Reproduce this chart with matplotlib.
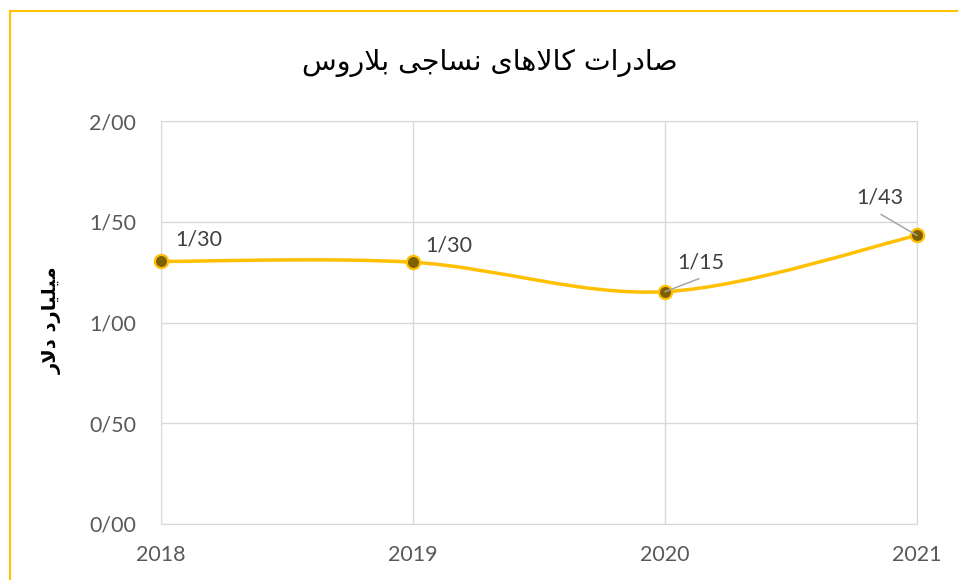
import matplotlib
matplotlib.use('Agg')
import matplotlib.pyplot as plt
from matplotlib.path import Path
from matplotlib.patches import PathPatch, Rectangle
from matplotlib.ticker import FuncFormatter, MultipleLocator

# داده‌ها
years = [2018, 2019, 2020, 2021]
values = [1.303, 1.299, 1.153, 1.432]
title_text = 'صادرات کالاهای نساجی بلاروس'
ylabel_text = 'میلیارد دلار'

# شکل‌دهی دستی حروف فارسی (matplotlib اتصال حروف را انجام نمی‌دهد)
FORMS = {
    'ا': ('\uFE8D', '\uFE8E', None, None),
    'ب': ('\uFE8F', '\uFE90', '\uFE91', '\uFE92'),
    'ت': ('\uFE95', '\uFE96', '\uFE97', '\uFE98'),
    'ج': ('\uFE9D', '\uFE9E', '\uFE9F', '\uFEA0'),
    'د': ('\uFEA9', '\uFEAA', None, None),
    'ر': ('\uFEAD', '\uFEAE', None, None),
    'س': ('\uFEB1', '\uFEB2', '\uFEB3', '\uFEB4'),
    'ص': ('\uFEB9', '\uFEBA', '\uFEBB', '\uFEBC'),
    'ل': ('\uFEDD', '\uFEDE', '\uFEDF', '\uFEE0'),
    'م': ('\uFEE1', '\uFEE2', '\uFEE3', '\uFEE4'),
    'ن': ('\uFEE5', '\uFEE6', '\uFEE7', '\uFEE8'),
    'ه': ('\uFEE9', '\uFEEA', '\uFEEB', '\uFEEC'),
    'و': ('\uFEED', '\uFEEE', None, None),
    'ک': ('\uFB8E', '\uFB8F', '\uFB90', '\uFB91'),
    'ی': ('\uFBFC', '\uFBFD', '\uFBFE', '\uFBFF'),
}


def shape_fa(text):
    out = []
    i, n = 0, len(text)
    while i < n:
        c = text[i]
        if c not in FORMS:
            out.append(c)
            i += 1
            continue
        prev = text[i - 1] if i > 0 else ''
        joins_prev = prev in FORMS and FORMS[prev][2] is not None
        if c == 'ل' and i + 1 < n and text[i + 1] == 'ا':
            out.append('\uFEFC' if joins_prev else '\uFEFB')
            i += 2
            continue
        nxt = text[i + 1] if i + 1 < n else ''
        joins_next = FORMS[c][2] is not None and nxt in FORMS
        iso, fin, ini, med = FORMS[c]
        if joins_prev and joins_next:
            out.append(med)
        elif joins_prev:
            out.append(fin)
        elif joins_next:
            out.append(ini)
        else:
            out.append(iso)
        i += 1
    return ''.join(reversed(out))


def fa_num(v):
    return f"{v:.2f}".replace('.', '/')


C_LINE, C_MARK, C_TXT, C_GRID = '#FFC000', '#7F6000', '#595959', '#d9d9d9'

fig = plt.figure(figsize=(9.58, 5.8), dpi=100)
ax = fig.add_axes([161 / 958, 56 / 580, 756 / 958, 403 / 580])

# خط نرم (بزیه مثل اکسل)
pts = list(zip(years, values))
verts = [pts[0]]
codes = [Path.MOVETO]
for i in range(len(pts) - 1):
    p0 = pts[max(i - 1, 0)]
    p1 = pts[i]
    p2 = pts[i + 1]
    p3 = pts[min(i + 2, len(pts) - 1)]
    c1 = (p1[0] + (p2[0] - p0[0]) / 6, p1[1] + (p2[1] - p0[1]) / 6)
    c2 = (p2[0] - (p3[0] - p1[0]) / 6, p2[1] - (p3[1] - p1[1]) / 6)
    verts += [c1, c2, p2]
    codes += [Path.CURVE4] * 3
ax.add_patch(PathPatch(Path(verts, codes), facecolor='none', edgecolor=C_LINE,
                       lw=2.5, capstyle='round', zorder=3, clip_on=False))
ax.plot(years, values, linestyle='none', marker='o', markersize=9.5,
        markerfacecolor=C_MARK, markeredgecolor=C_LINE, markeredgewidth=1.6,
        zorder=4, clip_on=False)

# برچسب داده‌ها
offsets = [(14, 22, 'left'), (12, 17, 'left'), (12, 29, 'left'), (-14, 38, 'right')]
for x, v, (dx, dy, ha) in zip(years, values, offsets):
    ax.annotate(fa_num(v), xy=(x, v), xytext=(dx, dy), textcoords='offset pixels',
                ha=ha, va='center', fontsize=15.5, color='#404040', family='Lato')
leaders = {2020: (34, 13), 2021: (-36, 21)}
for x, v in zip(years, values):
    if x in leaders:
        ax.annotate('', xy=(x, v), xytext=leaders[x], textcoords='offset pixels',
                    arrowprops=dict(arrowstyle='-', color='#a6a6a6', lw=1.1,
                                    shrinkA=0, shrinkB=0), zorder=5)

ax.set_xlim(years[0], years[-1])
ax.set_ylim(0, 2)
ax.set_xticks(years)
ax.yaxis.set_major_locator(MultipleLocator(0.5))
ax.yaxis.set_major_formatter(FuncFormatter(lambda v, p: fa_num(v)))
ax.grid(True, color=C_GRID, lw=1)
ax.set_axisbelow(True)
for s in ax.spines.values():
    s.set_color(C_GRID)
ax.tick_params(length=0, labelsize=15.5, labelcolor=C_TXT)
ax.tick_params(axis='x', pad=15)
ax.tick_params(axis='y', pad=18)
for lbl in ax.get_xticklabels() + ax.get_yticklabels():
    lbl.set_family('Lato')

ax.set_ylabel(shape_fa(ylabel_text), fontsize=14, fontweight='bold',
              family='DejaVu Sans', color='black')
ax.yaxis.set_label_coords(-0.131, 0.506)

fig.text(490 / 958, 1 - 63 / 580, shape_fa(title_text), ha='center', va='center',
         fontsize=20.5, family='DejaVu Sans', color='black')

# کادر نمودار
fig.patches.append(Rectangle((10 / 958, -0.05), 1.0, (580 - 11) / 580 + 0.05,
                             transform=fig.transFigure, fill=False,
                             edgecolor=C_LINE, lw=1.5, clip_on=False))

fig.savefig('out.png', dpi=100)
